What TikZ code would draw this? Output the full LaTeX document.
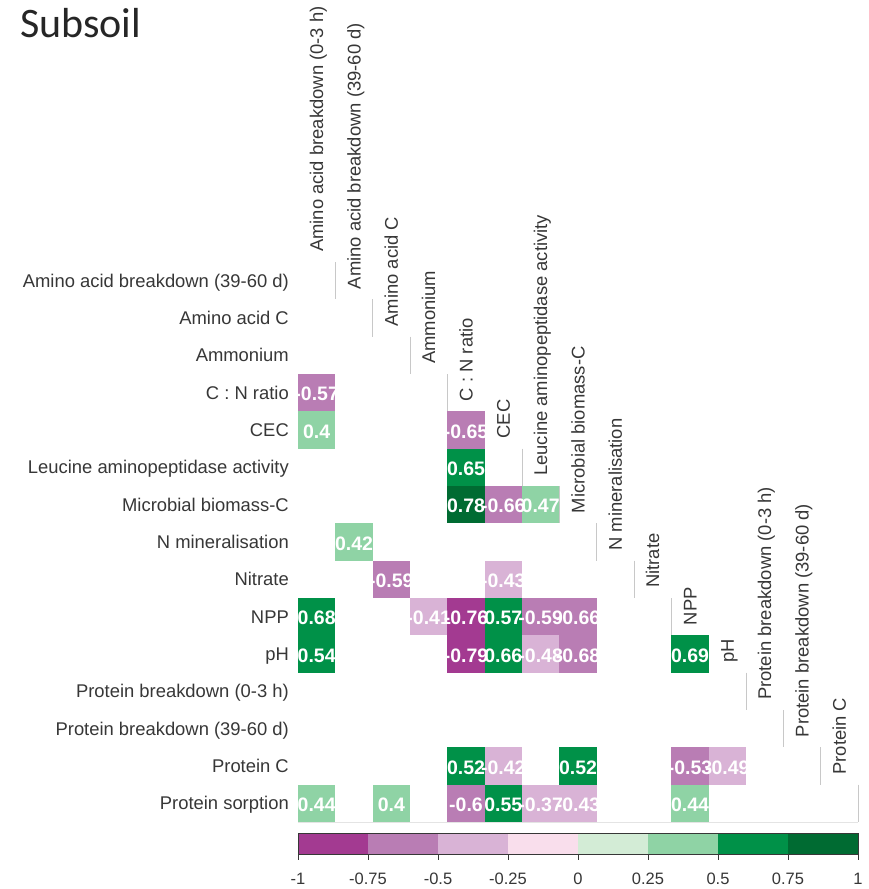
\documentclass[tikz,border=0pt]{standalone}
\usepackage{fontspec}
\setmainfont{Liberation Sans}
\newfontfamily\titlefont{Carlito}

% colour scale, one colour per 0.25 step from -1 to 1
\definecolor{cA}{RGB}{163,58,145}
\definecolor{cB}{RGB}{185,125,180}
\definecolor{cC}{RGB}{217,179,214}
\definecolor{cD}{RGB}{249,222,236}
\definecolor{cE}{RGB}{211,236,214}
\definecolor{cF}{RGB}{143,211,165}
\definecolor{cG}{RGB}{0,145,72}
\definecolor{cH}{RGB}{0,107,50}
\definecolor{labelgrey}{RGB}{55,55,55}
\definecolor{diaggrey}{RGB}{200,200,200}
\definecolor{gridgrey}{RGB}{228,228,228}

% grid geometry (1 unit = 1pt, y grows downwards)
\def\gx{298}    % left edge of first column
\def\gy{262}    % top edge of first row
\def\cw{37.333} % cell size

% row/column/value/colour of every coloured cell
\def\cells{4/1/-0.57/cB, 5/1/0.4/cF, 5/5/-0.65/cB, 6/5/0.65/cG, 7/5/0.78/cH,
  7/6/-0.66/cB, 7/7/0.47/cF, 8/2/0.42/cF, 9/3/-0.59/cB, 9/6/-0.43/cC,
  10/1/0.68/cG, 10/4/-0.41/cC, 10/5/-0.76/cA, 10/6/0.57/cG, 10/7/-0.59/cB,
  10/8/-0.66/cB, 11/1/0.54/cG, 11/5/-0.79/cA, 11/6/0.66/cG, 11/7/-0.48/cC,
  11/8/-0.68/cB, 11/11/0.69/cG, 14/5/0.52/cG, 14/6/-0.42/cC, 14/8/0.52/cG,
  14/11/-0.53/cB, 14/12/-0.49/cC, 15/1/0.44/cF, 15/3/0.4/cF, 15/5/-0.6/cB,
  15/6/0.55/cG, 15/7/-0.37/cC, 15/8/-0.43/cC, 15/11/0.44/cF}

\begin{document}
\begin{tikzpicture}[x=1pt,y=-1pt,
  rowlabel/.style={anchor=base east,inner sep=0pt,text=labelgrey,
    font=\fontsize{18.4}{20}\selectfont},
  collabel/.style={anchor=base west,rotate=90,inner sep=0pt,text=labelgrey,
    font=\fontsize{18.4}{20}\selectfont},
  cellbox/.style={draw=none,inner sep=0pt,minimum width=\cw pt,minimum height=\cw pt},
  celltext/.style={inner sep=0pt,text=white,font=\bfseries\fontsize{19.5}{21}\selectfont},
  ticklabel/.style={anchor=base,inner sep=0pt,text=labelgrey,
    font=\fontsize{16.5}{18}\selectfont},
  diagline/.style={draw=diaggrey,line width=0.9pt},
]
\useasboundingbox[fill=white] (0,0) rectangle (868,889);

% title
\node[anchor=base west,inner sep=0pt,font=\titlefont\fontsize{42}{46}\selectfont,
  text=black!85] (title) at (20,37) {Subsoil};

% row labels
\foreach \i/\t in {1/Amino acid breakdown (39-60 d), 2/Amino acid C, 3/Ammonium,
  4/C : N ratio, 5/CEC, 6/Leucine aminopeptidase activity, 7/Microbial biomass-C,
  8/N mineralisation, 9/Nitrate, 10/NPP, 11/pH, 12/Protein breakdown (0-3 h),
  13/Protein breakdown (39-60 d), 14/Protein C, 15/Protein sorption}
  \node[rowlabel] (row\i) at (289,{\gy+\cw*(\i-0.5)+6.5}) {\t};

% column labels, standing on the diagonal
\foreach \j/\t in {1/Amino acid breakdown (0-3 h), 2/Amino acid breakdown (39-60 d),
  3/Amino acid C, 4/Ammonium, 5/C : N ratio, 6/CEC,
  7/Leucine aminopeptidase activity, 8/Microbial biomass-C, 9/N mineralisation,
  10/Nitrate, 11/NPP, 12/pH, 13/Protein breakdown (0-3 h),
  14/Protein breakdown (39-60 d), 15/Protein C}
  \node[collabel] (col\j) at ({\gx+\cw*(\j-0.5)+6.5},{\gy+\cw*(\j-1)-10}) {\t};

% thin marks at the left of each diagonal cell
\foreach \i in {1,...,15}
  \draw[diagline] ({\gx+\cw*\i},{\gy+\cw*(\i-1)}) -- ({\gx+\cw*\i},{\gy+\cw*\i});

% lower edge of the grid
\draw[draw=gridgrey,line width=0.8pt] (\gx,{\gy+15*\cw}) -- ({\gx+15*\cw},{\gy+15*\cw});

% coloured cells
\foreach \r/\c/\v/\k in \cells
  \node[cellbox,fill=\k] (f-\r-\c) at ({\gx+\cw*(\c-0.5)},{\gy+\cw*(\r-0.5)}) {};

% correlation values, drawn over all the fills
\foreach \r/\c/\v/\k in \cells
  \node[celltext] (t-\r-\c) at ([yshift=-1.5pt]f-\r-\c.center) {\v};

% colour key
\foreach \n/\k in {0/cA,1/cB,2/cC,3/cD,4/cE,5/cF,6/cG,7/cH}
  \fill[\k] ({\gx+70*\n},833) rectangle ({\gx+70*(\n+1)},854);
\draw[labelgrey,line width=0.8pt] (\gx,833) rectangle ({\gx+560},854);
\foreach \n/\t in {0/-1,1/-0.75,2/-0.5,3/-0.25,4/0,5/0.25,6/0.5,7/0.75,8/1}{
  \draw[labelgrey,line width=0.8pt] ({\gx+70*\n},854) -- ({\gx+70*\n},860);
  \node[ticklabel] (key\n) at ({\gx+70*\n},884) {\t};
}
\end{tikzpicture}
\end{document}
